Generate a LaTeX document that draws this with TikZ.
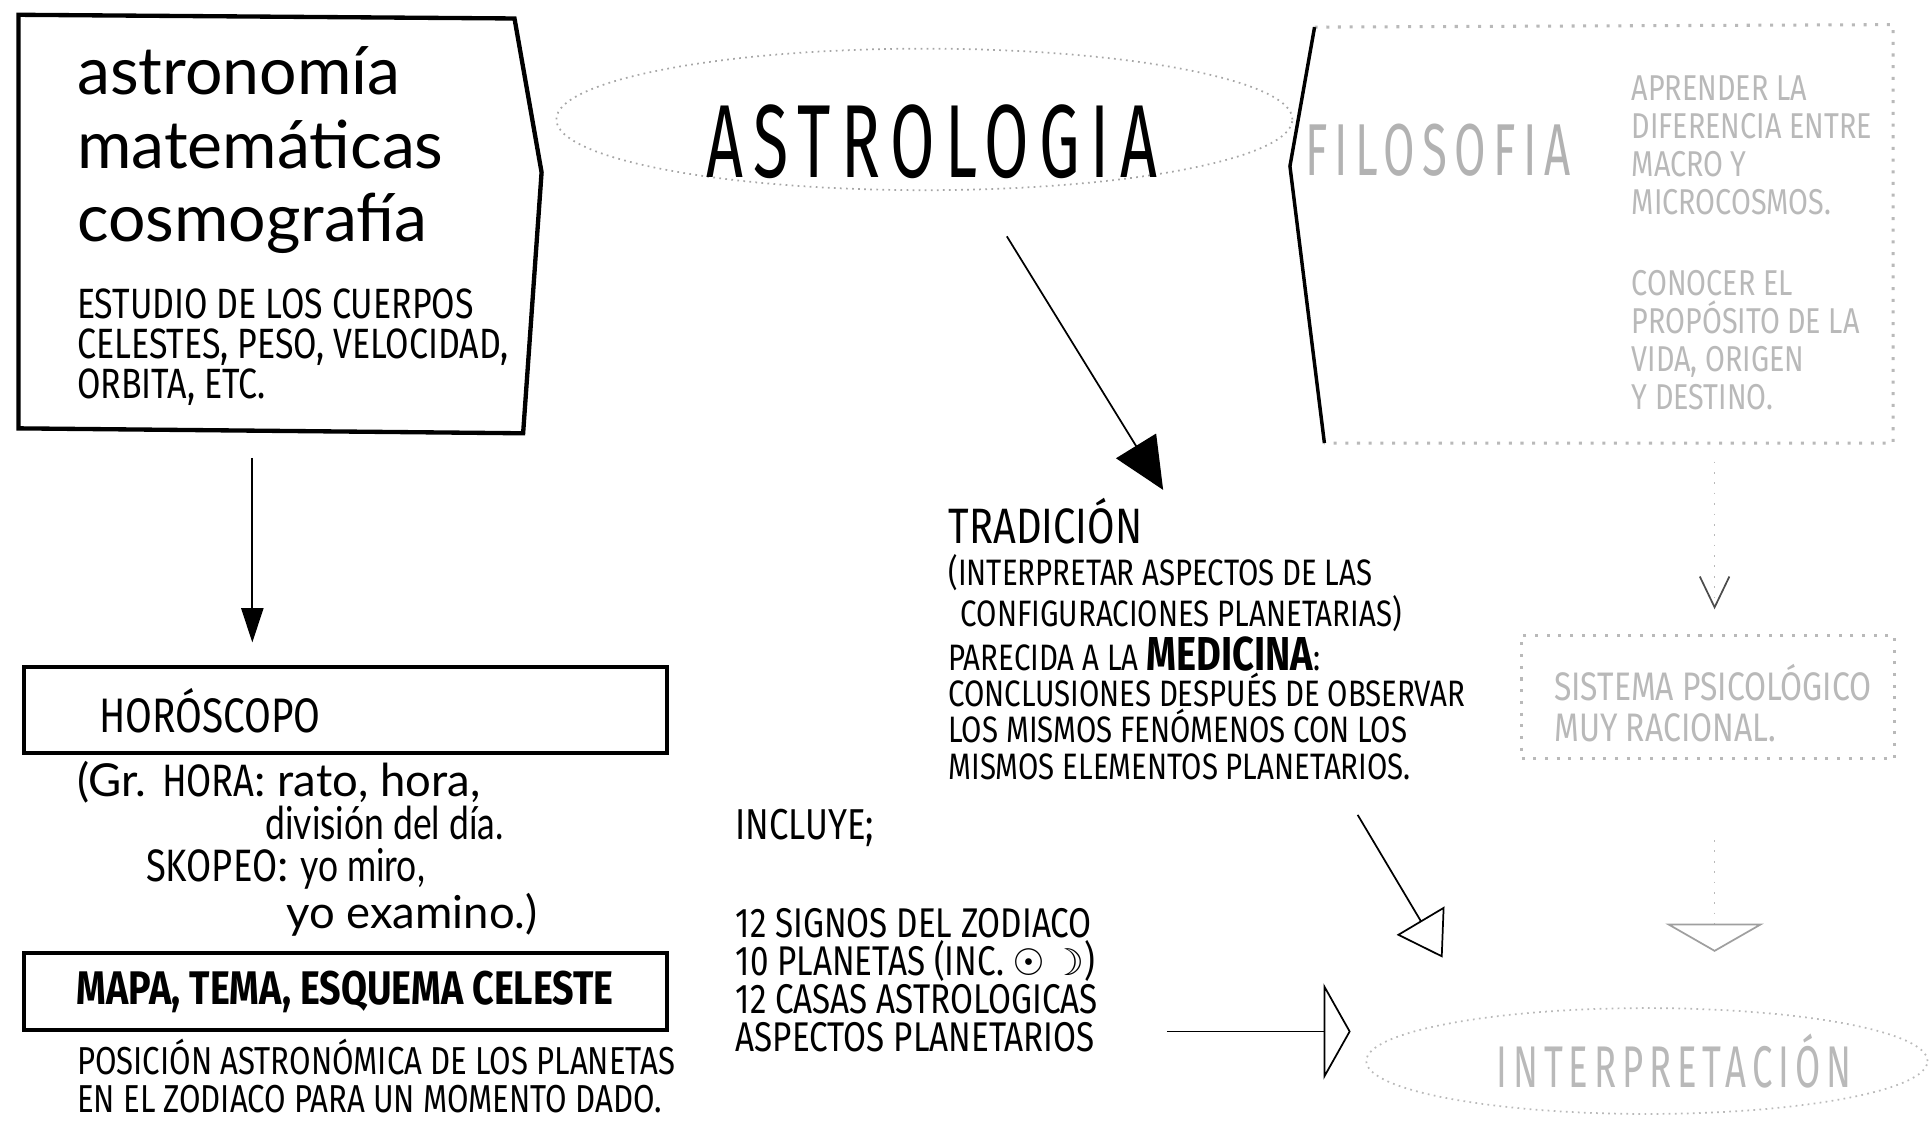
\documentclass[tikz,border=0pt]{standalone}
\usepackage{fontspec}
\setmainfont{Lato}
\newfontfamily\hand{Fira Sans}[FakeStretch=0.8]
\newfontfamily\tall{Fira Sans}[FakeStretch=0.62,LetterSpace=10]
\newfontfamily\slim{Lato}[FakeStretch=0.78]
\newfontfamily\sym{DejaVu Sans}
\newcommand{\setsz}[2]{\fontsize{#1}{#2}\selectfont}
\usetikzlibrary{arrows.meta,shapes.geometric,positioning}

\begin{document}
\begin{tikzpicture}[x=0.1mm,y=-0.1mm,
		txt/.style={inner sep=0pt,align=left},
		box/.style={draw,line width=0.9pt,inner sep=0pt},
		faint/.style={gray!55}]
		\useasboundingbox (0,0) rectangle (1568,910);
		% ciencias
		\draw[line width=1pt] (15,12) -- (418,15) -- (440,140) -- (425,352) -- (15,348) -- cycle;
		\coordinate (cienciasS) at (205,350);
		\node[txt,anchor=west,font={\setsz{15.3}{17}}] (ciencias) at (62,122) {astronomía\\matemáticas\\cosmografía};
		\node[txt,anchor=west,font={\hand\setsz{9.8}{9.2}}] (estudio) at (62,282) {ESTUDIO DE LOS CUERPOS\\CELESTES, PESO, VELOCIDAD,\\ORBITA, ETC.};
		% horoscopo
		\node[box,anchor=north west,minimum width=52.2mm,minimum height=7mm] (horo) at (18,540) {};
		\node[txt,anchor=west,font={\hand\setsz{11.2}{13}}] (horotxt) at (80,577) {HORÓSCOPO};
		\draw[-{Triangle[length=2.8mm,width=1.8mm]},shorten <=2.2mm,shorten >=1.8mm] (cienciasS) -- (cienciasS |- horo.north);
		\node[txt,anchor=north west,font={\setsz{10.5}{9.8}}] (hora) at (62,618) {(Gr. {\hand HORA}: rato, hora,\\ \hspace*{15.3mm}{\slim división del día.}\\ \hspace*{5.6mm}{\hand SKOPEO}: {\slim yo miro,}\\ \hspace*{17mm}yo examino.)};
		% mapa
		\node[box,anchor=north west,minimum width=52.2mm,minimum height=6.2mm] (mapa) at (18,773) {};
		\node[font={\hand\bfseries\setsz{10.9}{14}}] (mapatxt) at (mapa.center) {MAPA, TEMA, ESQUEMA CELESTE};
		\node[txt,anchor=west,font={\hand\setsz{9}{8.9}}] (posicion) at (62,874) {POSICIÓN ASTRONÓMICA DE LOS PLANETAS\\EN EL ZODIACO PARA UN MOMENTO DADO.};
		% astrologia
		\node[draw,ellipse,gray!70,densely dotted,minimum width=59.8mm,minimum height=11.5mm] (astrologia) at (751,97) {};
		\node[font={\tall\setsz{24}{26}}] (astrologiatxt) at (757,115) {ASTROLOGIA};
		\coordinate (a2s) at (818,192);
		\coordinate (a2e) at (945,398);
		\draw[-{Triangle[length=4.2mm,width=3.8mm]}] (a2s) -- (a2e);
		% tradicion
		\node[txt,anchor=north west,font={\hand\setsz{8.5}{8.4}}] (tradicion) at (770,404) {{\setsz{11.5}{12}TRADICIÓN}\\[0.5mm](INTERPRETAR ASPECTOS DE LAS\\ \hspace*{1mm}CONFIGURACIONES PLANETARIAS)\\PARECIDA A LA {\bfseries\setsz{11}{11}MEDICINA}:\\CONCLUSIONES DESPUÉS DE OBSERVAR\\LOS MISMOS FENÓMENOS CON LOS\\MISMOS ELEMENTOS PLANETARIOS.};
		\node[txt,anchor=west,font={\hand\setsz{10}{12}}] (incluye) at (597,673) {INCLUYE;};
		\node[txt,font={\hand\setsz{9.6}{8.8}},below right=4.8mm and 0mm of incluye.south west] (lista) {12 SIGNOS DEL ZODIACO\\10 PLANETAS (INC. {\sym\setsz{8.5}{8.8}☉\,☽})\\12 CASAS ASTROLOGICAS\\ASPECTOS PLANETARIOS};
		% filosofia
		\draw[faint,dotted,line width=0.7pt] (1068,22) -- (1538,20) -- (1538,360) -- (1076,360);
		\draw[line width=0.8pt] (1068,22) -- (1048,135) -- (1076,360);
		\coordinate (filS) at (1393,360);
		\node[font={\tall\setsz{17}{20}},text=gray!60] (filosofia) at (1168,122) {FILOSOFIA};
		\node[txt,anchor=west,font={\hand\setsz{8.3}{8.8}},text=gray!55] (aprender) at (1325,118) {APRENDER LA\\DIFERENCIA ENTRE\\MACRO Y\\MICROCOSMOS.};
		\node[txt,anchor=west,font={\hand\setsz{8.3}{8.8}},text=gray!55] (conocer) at (1325,276) {CONOCER EL\\PROPÓSITO DE LA\\VIDA, ORIGEN\\Y DESTINO.};
		% sistema
		\node[draw,faint,dotted,line width=0.7pt,anchor=north west,minimum width=30.3mm,minimum height=10mm,inner sep=0pt] (sistema) at (1235,515) {};
		\node[txt,anchor=west,font={\hand\setsz{9.2}{9.4}},text=gray!55] (sistematxt) at (1262,571) {SISTEMA PSICOLÓGICO\\MUY RACIONAL.};
		\draw[faint,dotted,-{Straight Barb[length=2.5mm,width=2.4mm,color=black!70]},shorten <=1.5mm,shorten >=2mm] (filS) -- (filS |- sistema.north);
		% interpretacion
		\node[draw,ellipse,faint,densely dotted,minimum width=45.6mm,minimum height=8.6mm] (interp) at (1338,862) {};
		\node[font={\tall\setsz{13.6}{16}},text=gray!55] (interptxt) at (1360,862) {INTERPRETACIÓN};
		\draw[faint,dotted,-{Triangle[open,length=2.3mm,width=8mm,color=gray!75]},shorten <=6.5mm,shorten >=4.5mm] (filS |- sistema.south) -- (filS |- interp.north);
		\coordinate (a3s) at (1103,662);
		\coordinate (a3e) at (1172,778);
		\draw[-{Triangle[open,length=3.5mm,width=4.5mm]}] (a3s) -- (a3e);
		\coordinate (a4s) at (948,838);
		\draw[-{Triangle[open,length=2.2mm,width=7.8mm]},shorten >=1.2mm] (a4s) -- (a4s -| interp.west);
	\end{tikzpicture}
\end{document}
